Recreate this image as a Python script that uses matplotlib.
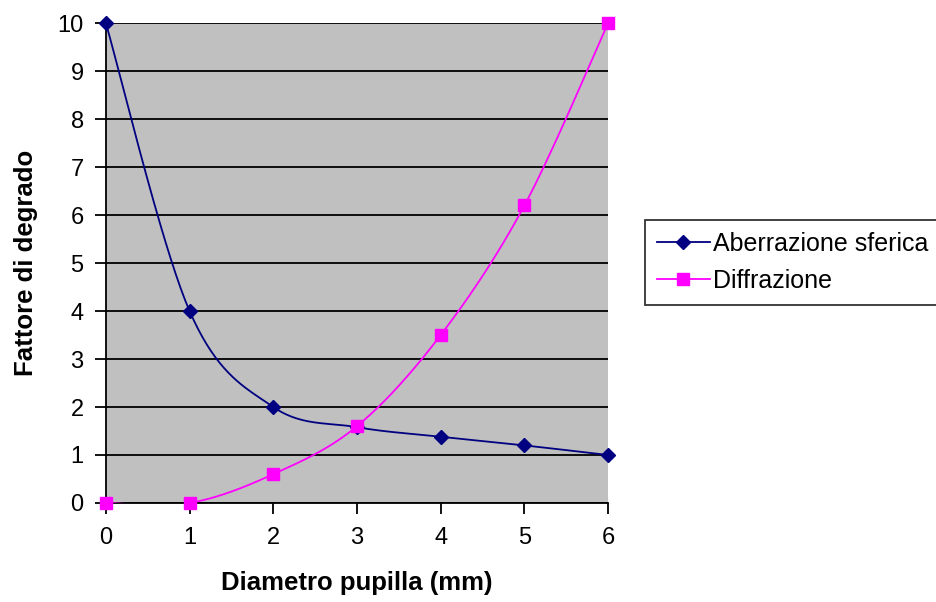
import numpy as np
import matplotlib
matplotlib.use("Agg")
import matplotlib.pyplot as plt
from matplotlib.lines import Line2D

diametro = [0, 1, 2, 3, 4, 5, 6]
aberrazione = [10, 4, 2, 1.58, 1.38, 1.2, 1.0]
diffrazione = [0, 0, 0.6, 1.6, 3.5, 6.2, 10]

plt.rcParams['font.family'] = ['Liberation Sans', 'DejaVu Sans']


def smooth(xs, ys, n=40):
    # Excel-style smoothed line: cubic Bezier with Catmull-Rom control points
    xs = np.asarray(xs, float)
    ys = np.asarray(ys, float)
    px, py = [], []
    m = len(xs)
    for i in range(m - 1):
        x0, y0 = (xs[i - 1], ys[i - 1]) if i > 0 else (xs[i], ys[i])
        x1, y1 = xs[i], ys[i]
        x2, y2 = xs[i + 1], ys[i + 1]
        x3, y3 = (xs[i + 2], ys[i + 2]) if i + 2 < m else (x2, y2)
        c1x, c1y = x1 + (x2 - x0) / 6, y1 + (y2 - y0) / 6
        c2x, c2y = x2 - (x3 - x1) / 6, y2 - (y3 - y1) / 6
        t = np.linspace(0, 1, n)
        bx = (1 - t) ** 3 * x1 + 3 * (1 - t) ** 2 * t * c1x + 3 * (1 - t) * t ** 2 * c2x + t ** 3 * x2
        by = (1 - t) ** 3 * y1 + 3 * (1 - t) ** 2 * t * c1y + 3 * (1 - t) * t ** 2 * c2y + t ** 3 * y2
        px.extend(bx)
        py.extend(by)
    return np.array(px), np.array(py)


fig = plt.figure(figsize=(9.37, 6.02), dpi=100)
ax = fig.add_axes([0.113, 0.1645, 0.536, 0.797])
ax.set_facecolor('#C0C0C0')

navy = '#000080'
magenta = '#FF00FF'

sx, sy = smooth(diametro, aberrazione)
ax.plot(sx, sy, color=navy, lw=1.3, zorder=3)
ax.plot(diametro, aberrazione, ls='none', marker='D', ms=7, color=navy, zorder=4, clip_on=False)

sx, sy = smooth(diametro, diffrazione)
ax.plot(sx, sy, color=magenta, lw=1.3, zorder=3)
ax.plot(diametro, diffrazione, ls='none', marker='s', ms=8, color=magenta, zorder=4, clip_on=False)

ax.set_xlim(0, 6)
ax.set_ylim(0, 10)
ax.set_xticks(range(0, 7))
ax.set_yticks(range(0, 11))
ax.yaxis.grid(True, color='black', lw=1.3)
ax.set_axisbelow(True)
for s in ['top', 'right']:
    ax.spines[s].set_visible(False)
for s in ['left', 'bottom']:
    ax.spines[s].set_color('black')
    ax.spines[s].set_linewidth(1.3)
ax.tick_params(axis='both', direction='out', length=8, width=1.3, labelsize=17, color='black')
ax.tick_params(axis='y', pad=8)
ax.tick_params(axis='x', pad=9)

ax.set_xlabel('Diametro pupilla (mm)', fontsize=18.5, fontweight='bold', labelpad=16)
ax.set_ylabel('Fattore di degrado', fontsize=18.5, fontweight='bold', labelpad=14)

handles = [Line2D([], [], color=navy, marker='D', ms=7, lw=1.3),
           Line2D([], [], color=magenta, marker='s', ms=8, lw=1.3)]
leg = fig.legend(handles, ['Aberrazione sferica', 'Diffrazione'],
                 loc='upper left', bbox_to_anchor=(0.688, 0.635),
                 frameon=True, fancybox=False, fontsize=18, handlelength=2.1,
                 handletextpad=0.12, borderpad=0.5, labelspacing=0.5, borderaxespad=0)
leg.get_frame().set_edgecolor('black')
leg.get_frame().set_linewidth(1.3)

fig.savefig('out.png', dpi=100)
